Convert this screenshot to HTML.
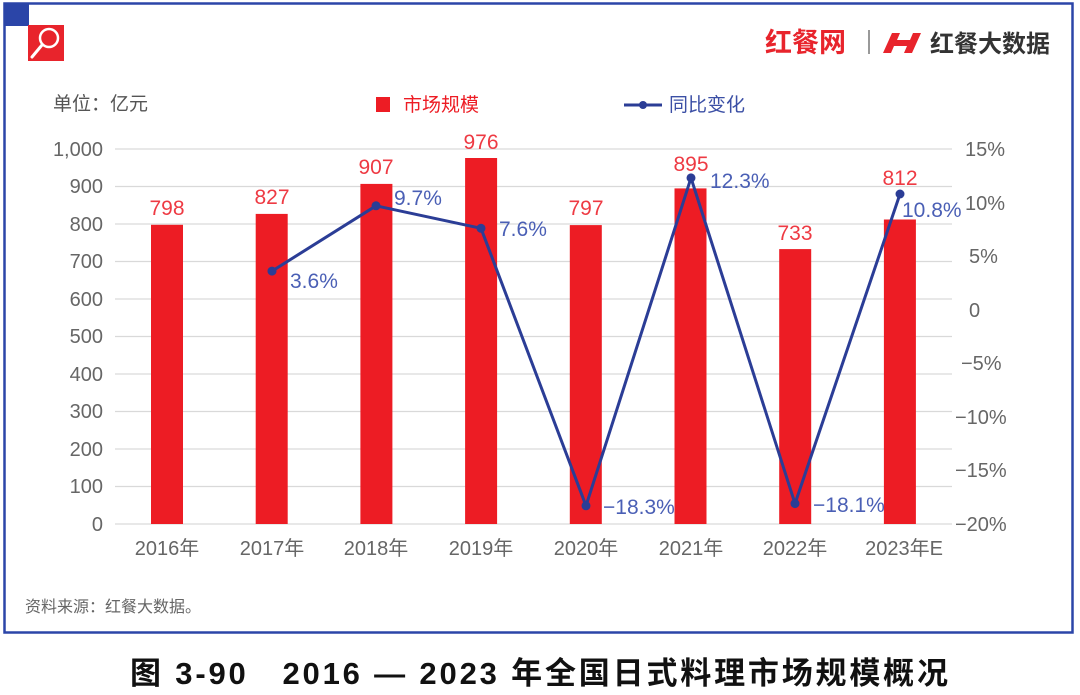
<!DOCTYPE html>
<html><head><meta charset="utf-8"><style>
html,body{margin:0;padding:0;background:#fff;}
svg{display:block;font-family:"Liberation Sans","Noto Sans CJK SC",sans-serif;}
</style></head><body>
<svg width="1080" height="695" viewBox="0 0 1080 695" xmlns="http://www.w3.org/2000/svg">
<rect x="0" y="0" width="1080" height="695" fill="#fff"/>
<rect x="4.5" y="3.5" width="1068" height="629" fill="none" stroke="#2b45a8" stroke-width="2.5"/>
<rect x="4" y="4" width="25" height="22" fill="#2b45a8"/>
<rect x="28" y="25" width="36" height="36" fill="#e8242c"/>
<circle cx="49" cy="38" r="9" fill="none" stroke="#fff" stroke-width="2.5"/>
<line x1="42" y1="45" x2="32" y2="57" stroke="#fff" stroke-width="3" stroke-linecap="round"/>
<text x="765" y="52" font-size="27" font-weight="bold" fill="#e8242c">红餐网</text>
<line x1="869" y1="30" x2="869" y2="54" stroke="#999" stroke-width="2"/>
<path d="M892 33 L900 33 L897 40 L910 40 L913 33 L921 33 L912 53 L904 53 L907 46 L894 46 L891 53 L883 53 Z" fill="#e8242c"/>
<text x="930" y="52" font-size="24" font-weight="bold" fill="#333">红餐大数据</text>
<text x="53" y="110" font-size="19" fill="#555">单位：亿元</text>
<rect x="376" y="97" width="14" height="15" fill="#ed1c24"/>
<text x="403" y="111" font-size="19" fill="#ed1c24">市场规模</text>
<line x1="624" y1="105" x2="662" y2="105" stroke="#2b3d96" stroke-width="3"/>
<circle cx="643" cy="105" r="4" fill="#2b3d96"/>
<text x="669" y="111" font-size="19" fill="#3b4fa5">同比变化</text>
<g stroke="#d9d9d9" stroke-width="1.2">
<line x1="115" y1="149" x2="952" y2="149"/><line x1="115" y1="186.5" x2="952" y2="186.5"/>
<line x1="115" y1="224" x2="952" y2="224"/><line x1="115" y1="261.5" x2="952" y2="261.5"/>
<line x1="115" y1="299" x2="952" y2="299"/><line x1="115" y1="336.5" x2="952" y2="336.5"/>
<line x1="115" y1="374" x2="952" y2="374"/><line x1="115" y1="411.5" x2="952" y2="411.5"/>
<line x1="115" y1="449" x2="952" y2="449"/><line x1="115" y1="486.5" x2="952" y2="486.5"/>
<line x1="115" y1="524" x2="952" y2="524"/>
</g>
<g font-size="20" fill="#666" text-anchor="end">
<text x="103" y="156">1,000</text><text x="103" y="193">900</text><text x="103" y="231">800</text>
<text x="103" y="268">700</text><text x="103" y="306">600</text><text x="103" y="343">500</text>
<text x="103" y="381">400</text><text x="103" y="418">300</text><text x="103" y="456">200</text>
<text x="103" y="493">100</text><text x="103" y="531">0</text>
</g>
<g font-size="20" fill="#666" text-anchor="start">
<text x="965" y="156">15%</text><text x="965" y="210">10%</text><text x="969" y="263">5%</text>
<text x="969" y="317">0</text><text x="961" y="370">−5%</text><text x="955" y="424">−10%</text>
<text x="955" y="477">−15%</text><text x="955" y="531">−20%</text>
</g>
<g fill="#ed1c24">
<rect x="151" y="224.8" width="32" height="299.2"/>
<rect x="255.7" y="213.9" width="32" height="310.1"/>
<rect x="360.4" y="183.9" width="32" height="340.1"/>
<rect x="465.1" y="158" width="32" height="366"/>
<rect x="569.8" y="225.1" width="32" height="298.9"/>
<rect x="674.5" y="188.4" width="32" height="335.6"/>
<rect x="779.2" y="249.1" width="32" height="274.9"/>
<rect x="883.9" y="219.5" width="32" height="304.5"/>
</g>
<g font-size="21" fill="#ee3a43" text-anchor="middle">
<text x="167" y="215">798</text><text x="272" y="204">827</text><text x="376" y="174">907</text>
<text x="481" y="149">976</text><text x="586" y="215">797</text><text x="691" y="171">895</text>
<text x="795" y="240">733</text><text x="900" y="185">812</text>
</g>
<polyline fill="none" stroke="#2b3d96" stroke-width="3" stroke-linejoin="round"
points="272,271.1 376,205.8 481,228.3 586,505.8 691,177.9 795,503.6 900,194"/>
<g fill="#2b3d96">
<circle cx="272" cy="271.1" r="4.5"/><circle cx="376" cy="205.8" r="4.5"/><circle cx="481" cy="228.3" r="4.5"/>
<circle cx="586" cy="505.8" r="4.5"/><circle cx="691" cy="177.9" r="4.5"/><circle cx="795" cy="503.6" r="4.5"/>
<circle cx="900" cy="194" r="4.5"/>
</g>
<g font-size="21" fill="#4a5fb5">
<text x="290" y="288">3.6%</text><text x="394" y="205">9.7%</text><text x="499" y="236">7.6%</text>
<text x="603" y="514">−18.3%</text><text x="710" y="188">12.3%</text><text x="813" y="512">−18.1%</text>
<text x="902" y="217">10.8%</text>
</g>
<g font-size="20" fill="#666" text-anchor="middle">
<text x="167" y="555">2016年</text><text x="272" y="555">2017年</text><text x="376" y="555">2018年</text>
<text x="481" y="555">2019年</text><text x="586" y="555">2020年</text><text x="691" y="555">2021年</text>
<text x="795" y="555">2022年</text><text x="904" y="555">2023年E</text>
</g>
<text x="25" y="612" font-size="16" fill="#666">资料来源：红餐大数据。</text>
<text x="130" y="684" font-size="31" font-weight="bold" fill="#111" textLength="818" lengthAdjust="spacing">图 3-90　2016 — 2023 年全国日式料理市场规模概况</text>
</svg>
</body></html>
